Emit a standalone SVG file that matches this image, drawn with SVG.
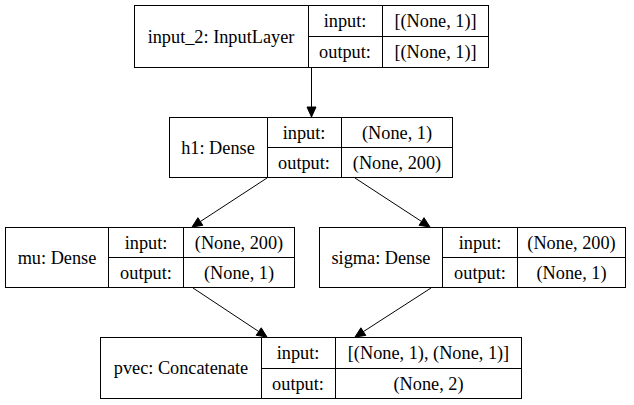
<svg xmlns="http://www.w3.org/2000/svg" width="634" height="405" viewBox="0 0 634 405">
<defs>
<style>
.box{fill:#fff;stroke:#000;stroke-width:1}
.ln{fill:none;stroke:#000;stroke-width:1}
.edge{fill:none;stroke:#000;stroke-width:1}
.ah{fill:#000;stroke:#000;stroke-width:1}
</style>
</defs>
<g id="edges">
<line class="edge" x1="311.5" y1="68" x2="311.5" y2="107"/>
<polygon class="ah" points="307,107 316,107 311.5,117"/>
<line class="edge" x1="267" y1="178" x2="200.4" y2="221.5"/>
<polygon class="ah" points="197.9,217.7 202.8,225.3 192,227"/>
<line class="edge" x1="355" y1="178" x2="421.6" y2="221.5"/>
<polygon class="ah" points="419.1,225.3 424.0,217.7 430,227"/>
<line class="edge" x1="193" y1="288" x2="258.7" y2="331.5"/>
<polygon class="ah" points="256.2,335.3 261.2,327.8 267,337"/>
<line class="edge" x1="431" y1="288" x2="363.4" y2="331.6"/>
<polygon class="ah" points="360.9,327.8 365.8,335.4 355,337"/>
</g>
<g font-family="Liberation Serif, Times New Roman, serif" font-size="18.3" text-anchor="middle" fill="#000">
<g id="input_2">
<rect class="box" x="134.5" y="5.5" width="354" height="62"/>
<line class="ln" x1="308.5" y1="5.5" x2="308.5" y2="67.5"/>
<line class="ln" x1="382.5" y1="5.5" x2="382.5" y2="67.5"/>
<line class="ln" x1="308.5" y1="36.5" x2="488.5" y2="36.5"/>
<text x="221" y="42.5">input_2: InputLayer</text>
<text x="345" y="27">input:</text>
<text x="435.5" y="27">[(None, 1)]</text>
<text x="345" y="58">output:</text>
<text x="435.5" y="58">[(None, 1)]</text>
</g>
<g id="h1">
<rect class="box" x="169.5" y="117.5" width="283" height="60"/>
<line class="ln" x1="267.5" y1="117.5" x2="267.5" y2="177.5"/>
<line class="ln" x1="341.5" y1="117.5" x2="341.5" y2="177.5"/>
<line class="ln" x1="267.5" y1="147.5" x2="452.5" y2="147.5"/>
<text x="218" y="153.5">h1: Dense</text>
<text x="304" y="138.5">input:</text>
<text x="397" y="138.5">(None, 1)</text>
<text x="304" y="169">output:</text>
<text x="397" y="169">(None, 200)</text>
</g>
<g id="mu">
<rect class="box" x="5.5" y="227.5" width="289" height="60"/>
<line class="ln" x1="108.5" y1="227.5" x2="108.5" y2="287.5"/>
<line class="ln" x1="183.5" y1="227.5" x2="183.5" y2="287.5"/>
<line class="ln" x1="108.5" y1="257.5" x2="294.5" y2="257.5"/>
<text x="57" y="263.5">mu: Dense</text>
<text x="146" y="248.5">input:</text>
<text x="239" y="248.5">(None, 200)</text>
<text x="146" y="279">output:</text>
<text x="239" y="279">(None, 1)</text>
</g>
<g id="sigma">
<rect class="box" x="319.5" y="227.5" width="306" height="60"/>
<line class="ln" x1="442.5" y1="227.5" x2="442.5" y2="287.5"/>
<line class="ln" x1="517.5" y1="227.5" x2="517.5" y2="287.5"/>
<line class="ln" x1="442.5" y1="257.5" x2="625.5" y2="257.5"/>
<text x="381" y="263.5">sigma: Dense</text>
<text x="480" y="248.5">input:</text>
<text x="571.5" y="248.5">(None, 200)</text>
<text x="480" y="279">output:</text>
<text x="571.5" y="279">(None, 1)</text>
</g>
<g id="pvec">
<rect class="box" x="100.5" y="337.5" width="421" height="61"/>
<line class="ln" x1="261.5" y1="337.5" x2="261.5" y2="398.5"/>
<line class="ln" x1="335.5" y1="337.5" x2="335.5" y2="398.5"/>
<line class="ln" x1="261.5" y1="368.5" x2="521.5" y2="368.5"/>
<text x="181" y="374">pvec: Concatenate</text>
<text x="298" y="359">input:</text>
<text x="428.5" y="359">[(None, 1), (None, 1)]</text>
<text x="298" y="390">output:</text>
<text x="428.5" y="390">(None, 2)</text>
</g>
</g>
</svg>
